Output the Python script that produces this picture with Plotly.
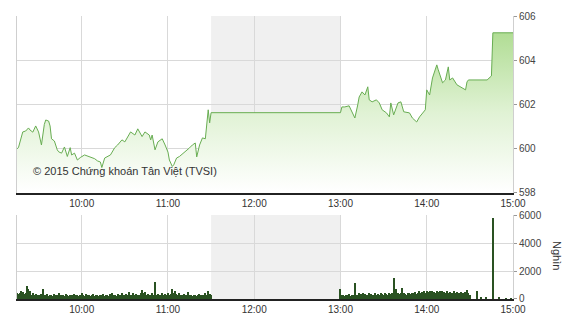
import pandas as pd
import plotly.graph_objects as go

DAY = "2015-01-01 "

# ---- price (VN-Index) ----
price_times = [
    "09:15", "09:16", "09:19", "09:21", "09:23", "09:24", "09:26", "09:28", "09:30", "09:31",
    "09:32", "09:34", "09:35", "09:37", "09:38", "09:39", "09:41", "09:43", "09:44", "09:46",
    "09:48", "09:50", "09:52", "09:53", "09:55", "09:57", "09:59", "10:02", "10:06", "10:09",
    "10:11", "10:13", "10:14", "10:16", "10:20", "10:23", "10:25", "10:28", "10:30", "10:33",
    "10:34", "10:37", "10:39", "10:42", "10:44", "10:47", "10:48", "10:49", "10:51", "10:53",
    "10:56", "10:58", "11:00", "11:01", "11:03", "11:04", "11:06", "11:08", "11:12", "11:15",
    "11:17", "11:19", "11:20", "11:22", "11:24", "11:26", "11:28", "11:29", "11:30",
    "13:00", "13:01", "13:03", "13:06", "13:10", "13:12", "13:13", "13:15", "13:17", "13:19",
    "13:20", "13:22", "13:25", "13:27", "13:29", "13:32", "13:34", "13:35", "13:37", "13:40",
    "13:42", "13:44", "13:48", "13:50", "13:53", "13:55", "13:57", "13:59", "14:00", "14:02",
    "14:04", "14:06", "14:07", "14:08", "14:09", "14:11", "14:13", "14:15", "14:16", "14:18",
    "14:21", "14:23", "14:25", "14:27", "14:28", "14:29", "14:42", "14:45", "14:46", "15:00",
]
price_values = [
    600.00, 600.05, 600.76, 600.80, 600.94, 600.85, 600.75, 601.03, 600.76, 600.45,
    600.17, 601.10, 601.30, 601.25, 601.03, 600.45, 600.35, 599.95, 599.86, 599.80,
    600.08, 599.65, 600.05, 599.72, 599.80, 599.49, 599.60, 599.72, 599.62, 599.55,
    599.45, 599.40, 599.15, 599.58, 599.72, 600.05, 600.17, 600.40, 600.31, 600.65,
    600.76, 600.62, 600.90, 600.55, 600.76, 600.62, 600.40, 600.62, 599.95, 600.31,
    600.45, 600.17, 599.85, 599.49, 599.20, 599.27, 599.58, 599.65, 599.86, 600.04,
    600.17, 600.26, 599.63, 600.17, 600.49, 600.45, 601.76, 601.17, 601.63,
    601.63, 601.89, 601.89, 601.94, 601.39, 601.98, 602.34, 602.57, 602.43, 602.80,
    602.21, 602.12, 602.21, 602.07, 601.76, 601.62, 601.44, 602.07, 601.53, 602.07,
    602.12, 601.67, 601.62, 601.39, 601.21, 601.44, 601.62, 601.76, 602.66, 602.43,
    603.20, 603.66, 603.79, 603.57, 603.34, 602.98, 603.11, 603.70, 603.11, 603.20,
    602.89, 602.80, 602.75, 602.66, 603.02, 603.11, 603.11, 603.29, 605.24, 605.24,
]

# ---- volume (thousand shares), one value per minute ----
vol_morning_start = "09:15"
vol_morning = [
    400, 350, 450, 600, 500, 350, 450, 950, 700, 550,
    300, 450, 250, 350, 200, 300, 250, 350, 700, 300,
    250, 350, 200, 300, 250, 200, 350, 250, 300, 450,
    200, 250, 300, 200, 350, 250, 200, 300, 250, 200,
    350, 250, 300, 200, 250, 450, 300, 200, 350, 250,
    300, 200, 250, 350, 200, 250, 300, 200, 250, 300,
    350, 200, 300, 250, 200, 350, 450, 250, 300, 200,
    350, 300, 250, 400, 300, 250, 350, 300, 500, 300,
    250, 400, 300, 350, 250, 300, 400, 650, 400, 500,
    300, 350, 250, 300, 400, 300, 1250, 300, 350, 250,
    300, 400, 250, 350, 300, 450, 300, 350, 700, 400,
    600, 350, 300, 400, 250, 300, 350, 250, 300, 500,
    300, 250, 200, 300, 250, 200, 300, 350, 250, 300,
    250, 400, 300, 550, 350, 300,
]
vol_afternoon_start = "13:00"
vol_afternoon = [
    700, 300, 250, 200, 300, 250, 350, 200, 300, 250,
    1150, 300, 250, 400, 350, 300, 450, 350, 300, 250,
    400, 350, 300, 250, 400, 300, 350, 300, 400, 350,
    300, 400, 350, 300, 450, 350, 400, 1500, 500, 700,
    400, 350, 450, 800, 400, 350, 300, 450, 400, 350,
    450, 400, 500, 350, 450, 550, 400, 500, 600, 450,
    550, 500, 600, 450, 550, 500, 450, 600, 500, 550,
    450, 600, 500, 450, 550, 400, 500, 450, 400, 550,
    450, 500, 400, 450, 500, 400, 450, 500, 650, 400,
    300,
]
vol_late_times = ["14:35", "14:38", "14:41", "14:46", "14:50", "14:55", "14:59"]
vol_late = [600, 80, 100, 5800, 80, 60, 50]

x_ticks = ["10:00", "11:00", "12:00", "13:00", "14:00", "15:00"]
price_ticks = [598, 600, 602, 604, 606]
vol_ticks = [0, 2000, 4000, 6000]
lunch = ("11:30", "13:00")
watermark = "© 2015 Chứng khoán Tân Việt (TVSI)"
vol_unit = "Nghìn"

# ---- build ----
px_time = [DAY + t for t in price_times]
vt = (list(pd.date_range(DAY + vol_morning_start, periods=len(vol_morning), freq="min"))
      + list(pd.date_range(DAY + vol_afternoon_start, periods=len(vol_afternoon), freq="min"))
      + [pd.Timestamp(DAY + t) for t in vol_late_times])
vv = vol_morning + vol_afternoon + vol_late

FONT = "Arial, Liberation Sans, sans-serif"
GRID = "#d9d9d9"
LINE = "#68ad52"

fig = go.Figure()
fig.add_trace(go.Scatter(
    x=px_time, y=price_values, mode="lines",
    line=dict(color=LINE, width=1, shape="linear"),
    fill="tozeroy",
    fillgradient=dict(type="vertical", start=598, stop=606,
                      colorscale=[[0, "rgba(255,255,255,1)"], [0.45, "#e0f2d4"], [1, "#a6d886"]]),
    xaxis="x", yaxis="y", hoverinfo="skip", showlegend=False,
))
fig.add_trace(go.Bar(
    x=vt, y=vv, marker=dict(color="#2a5222", line=dict(width=0)),
    width=50000, xaxis="x2", yaxis="y2", showlegend=False, hoverinfo="skip",
))

xr = [DAY + "09:15", DAY + "15:00"]
tickvals = [DAY + t for t in x_ticks]
xcommon = dict(type="date", range=xr, tickvals=tickvals, ticktext=x_ticks,
               showgrid=True, gridcolor=GRID, gridwidth=1,
               showline=True, linecolor="#222", linewidth=2,
               ticks="", zeroline=False, automargin=False,
               tickfont=dict(family=FONT, size=10, color="#333"))
ycommon = dict(side="right", showgrid=True, gridcolor=GRID, gridwidth=1,
               showline=True, mirror=True, linecolor="#cfcfcf", linewidth=1,
               ticks="outside", ticklen=3, tickcolor="#999", zeroline=False,
               automargin=False,
               tickfont=dict(family=FONT, size=10, color="#444"))

fig.update_layout(
    width=570, height=320,
    margin=dict(l=17, r=57, t=16, b=21, autoexpand=False),
    paper_bgcolor="white", plot_bgcolor="white",
    xaxis=dict(**xcommon, anchor="y"),
    xaxis2=dict(**xcommon, anchor="y2", matches="x"),
    yaxis=dict(**ycommon, domain=[0.3746, 1], range=[598, 606], tickvals=price_ticks,
               anchor="x"),
    yaxis2=dict(**ycommon, domain=[0, 0.2968], range=[0, 6000], tickvals=vol_ticks,
                anchor="x2"),
    bargap=0,
    shapes=[
        dict(type="rect", xref="x", yref="y domain", x0=DAY + lunch[0], x1=DAY + lunch[1],
             y0=0, y1=1, fillcolor="#f0f0f0", line=dict(width=0), layer="below"),
        dict(type="rect", xref="x2", yref="y2 domain", x0=DAY + lunch[0], x1=DAY + lunch[1],
             y0=0, y1=1, fillcolor="#f0f0f0", line=dict(width=0), layer="below"),
    ],
    annotations=[
        dict(text=watermark, xref="x", yref="y", x=DAY + "09:25", y=599.0,
             xanchor="left", yanchor="middle", showarrow=False,
             font=dict(family=FONT, size=11, color="#333")),
        dict(text=vol_unit, xref="paper", yref="paper", x=1.106, y=0.095,
             textangle=90, showarrow=False,
             font=dict(family=FONT, size=11, color="#333")),
    ],
)

fig.write_html("out.html")
